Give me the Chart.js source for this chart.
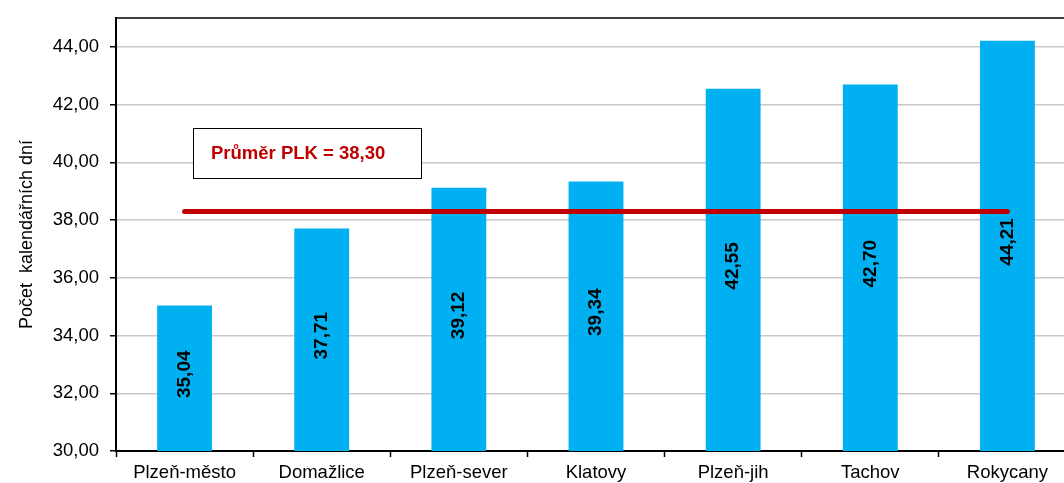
<!DOCTYPE html>
<html>
<head>
<meta charset="utf-8">
<script src="https://cdn.jsdelivr.net/npm/chart.js@4"></script>
<style>
  html, body { margin: 0; padding: 0; background: #fff; overflow: hidden; }
  .chart-container { width: 1080px; height: 483px; }
</style>
</head>
<body>
<div class="chart-container"><canvas id="chart"></canvas></div>
<script>
const categories = ['Plzeň-město', 'Domažlice', 'Plzeň-sever', 'Klatovy', 'Plzeň-jih', 'Tachov', 'Rokycany'];
const values = [35.04, 37.71, 39.12, 39.34, 42.55, 42.70, 44.21];
const average = 38.30;
const yTicks = [30, 32, 34, 36, 38, 40, 42, 44];

const czFormat = v => v.toFixed(2).replace('.', ',');
const FONT = 'Arial, "Liberation Sans", sans-serif';

// top border, rotated bar values, average text box
const extras = {
  id: 'extras',
  afterDraw(chart) {
    const { ctx, chartArea } = chart;
    const xs = chart.scales.x, ys = chart.scales.y;
    ctx.save();
    ctx.strokeStyle = '#000';
    ctx.lineWidth = 1.5;
    ctx.beginPath();
    ctx.moveTo(chartArea.left, chartArea.top);
    ctx.lineTo(chart.width, chartArea.top);
    ctx.stroke();

    ctx.font = 'bold 19px ' + FONT;
    ctx.fillStyle = '#000';
    ctx.textAlign = 'center';
    ctx.textBaseline = 'middle';
    values.forEach((v, i) => {
      const x = xs.getPixelForValue(i);
      const yMid = (ys.getPixelForValue(v) + ys.getPixelForValue(ys.min)) / 2;
      ctx.save();
      ctx.translate(x, yMid - 4);
      ctx.rotate(-Math.PI / 2);
      ctx.fillText(czFormat(v), 0, 0);
      ctx.restore();
    });

    const bx = chartArea.left + 77, by = chartArea.top + 110, bw = 228, bh = 50;
    ctx.textAlign = 'left';
    ctx.fillStyle = '#fff';
    ctx.fillRect(bx, by, bw, bh);
    ctx.lineWidth = 1;
    ctx.strokeRect(bx + 0.5, by + 0.5, bw, bh);
    ctx.fillStyle = '#C00000';
    ctx.font = 'bold 18.5px ' + FONT;
    ctx.fillText('Průměr PLK = ' + czFormat(average), bx + 18, by + bh / 2 + 1);
    ctx.restore();
  }
};

new Chart(document.getElementById('chart'), {
  data: {
    labels: categories,
    datasets: [
      {
        type: 'line',
        data: categories.map(() => average),
        borderColor: '#C00000',
        borderWidth: 5,
        borderCapStyle: 'round',
        pointRadius: 0,
        order: 0
      },
      {
        type: 'bar',
        data: values,
        backgroundColor: '#00B0F0',
        barPercentage: 0.4,
        categoryPercentage: 1,
        order: 1
      }
    ]
  },
  options: {
    responsive: true,
    maintainAspectRatio: false,
    animation: false,
    layout: { padding: { top: 18, right: 4, left: 0, bottom: 0 } },
    plugins: { legend: { display: false }, tooltip: { enabled: false } },
    scales: {
      x: {
        offset: true,
        grid: { display: true, offset: true, drawOnChartArea: false, tickLength: 6, tickColor: '#000', tickWidth: 1.5 },
        border: { color: '#000', width: 2 },
        ticks: { color: '#000', font: { family: FONT, size: 18.5 }, padding: 5, maxRotation: 0 },
        afterFit(scale) { scale.height = 32; }
      },
      y: {
        min: 30,
        max: 45,
        afterBuildTicks(scale) { scale.ticks = yTicks.map(v => ({ value: v })); },
        grid: { color: '#c8c8c8', lineWidth: 1.5, tickLength: 6, tickColor: '#000' },
        border: { color: '#000', width: 2 },
        ticks: { color: '#000', font: { family: FONT, size: 18.5 }, padding: 11, callback: v => czFormat(v) },
        title: {
          display: true,
          text: 'Počet  kalendářních dní',
          color: '#000',
          font: { family: FONT, size: 18 },
          padding: { top: 16, bottom: 0 }
        },
        afterFit(scale) {
          scale.width = 116;
          scale.paddingTop = 0;
          scale.paddingBottom = 0;
        }
      }
    }
  },
  plugins: [extras]
});
</script>
</body>
</html>
